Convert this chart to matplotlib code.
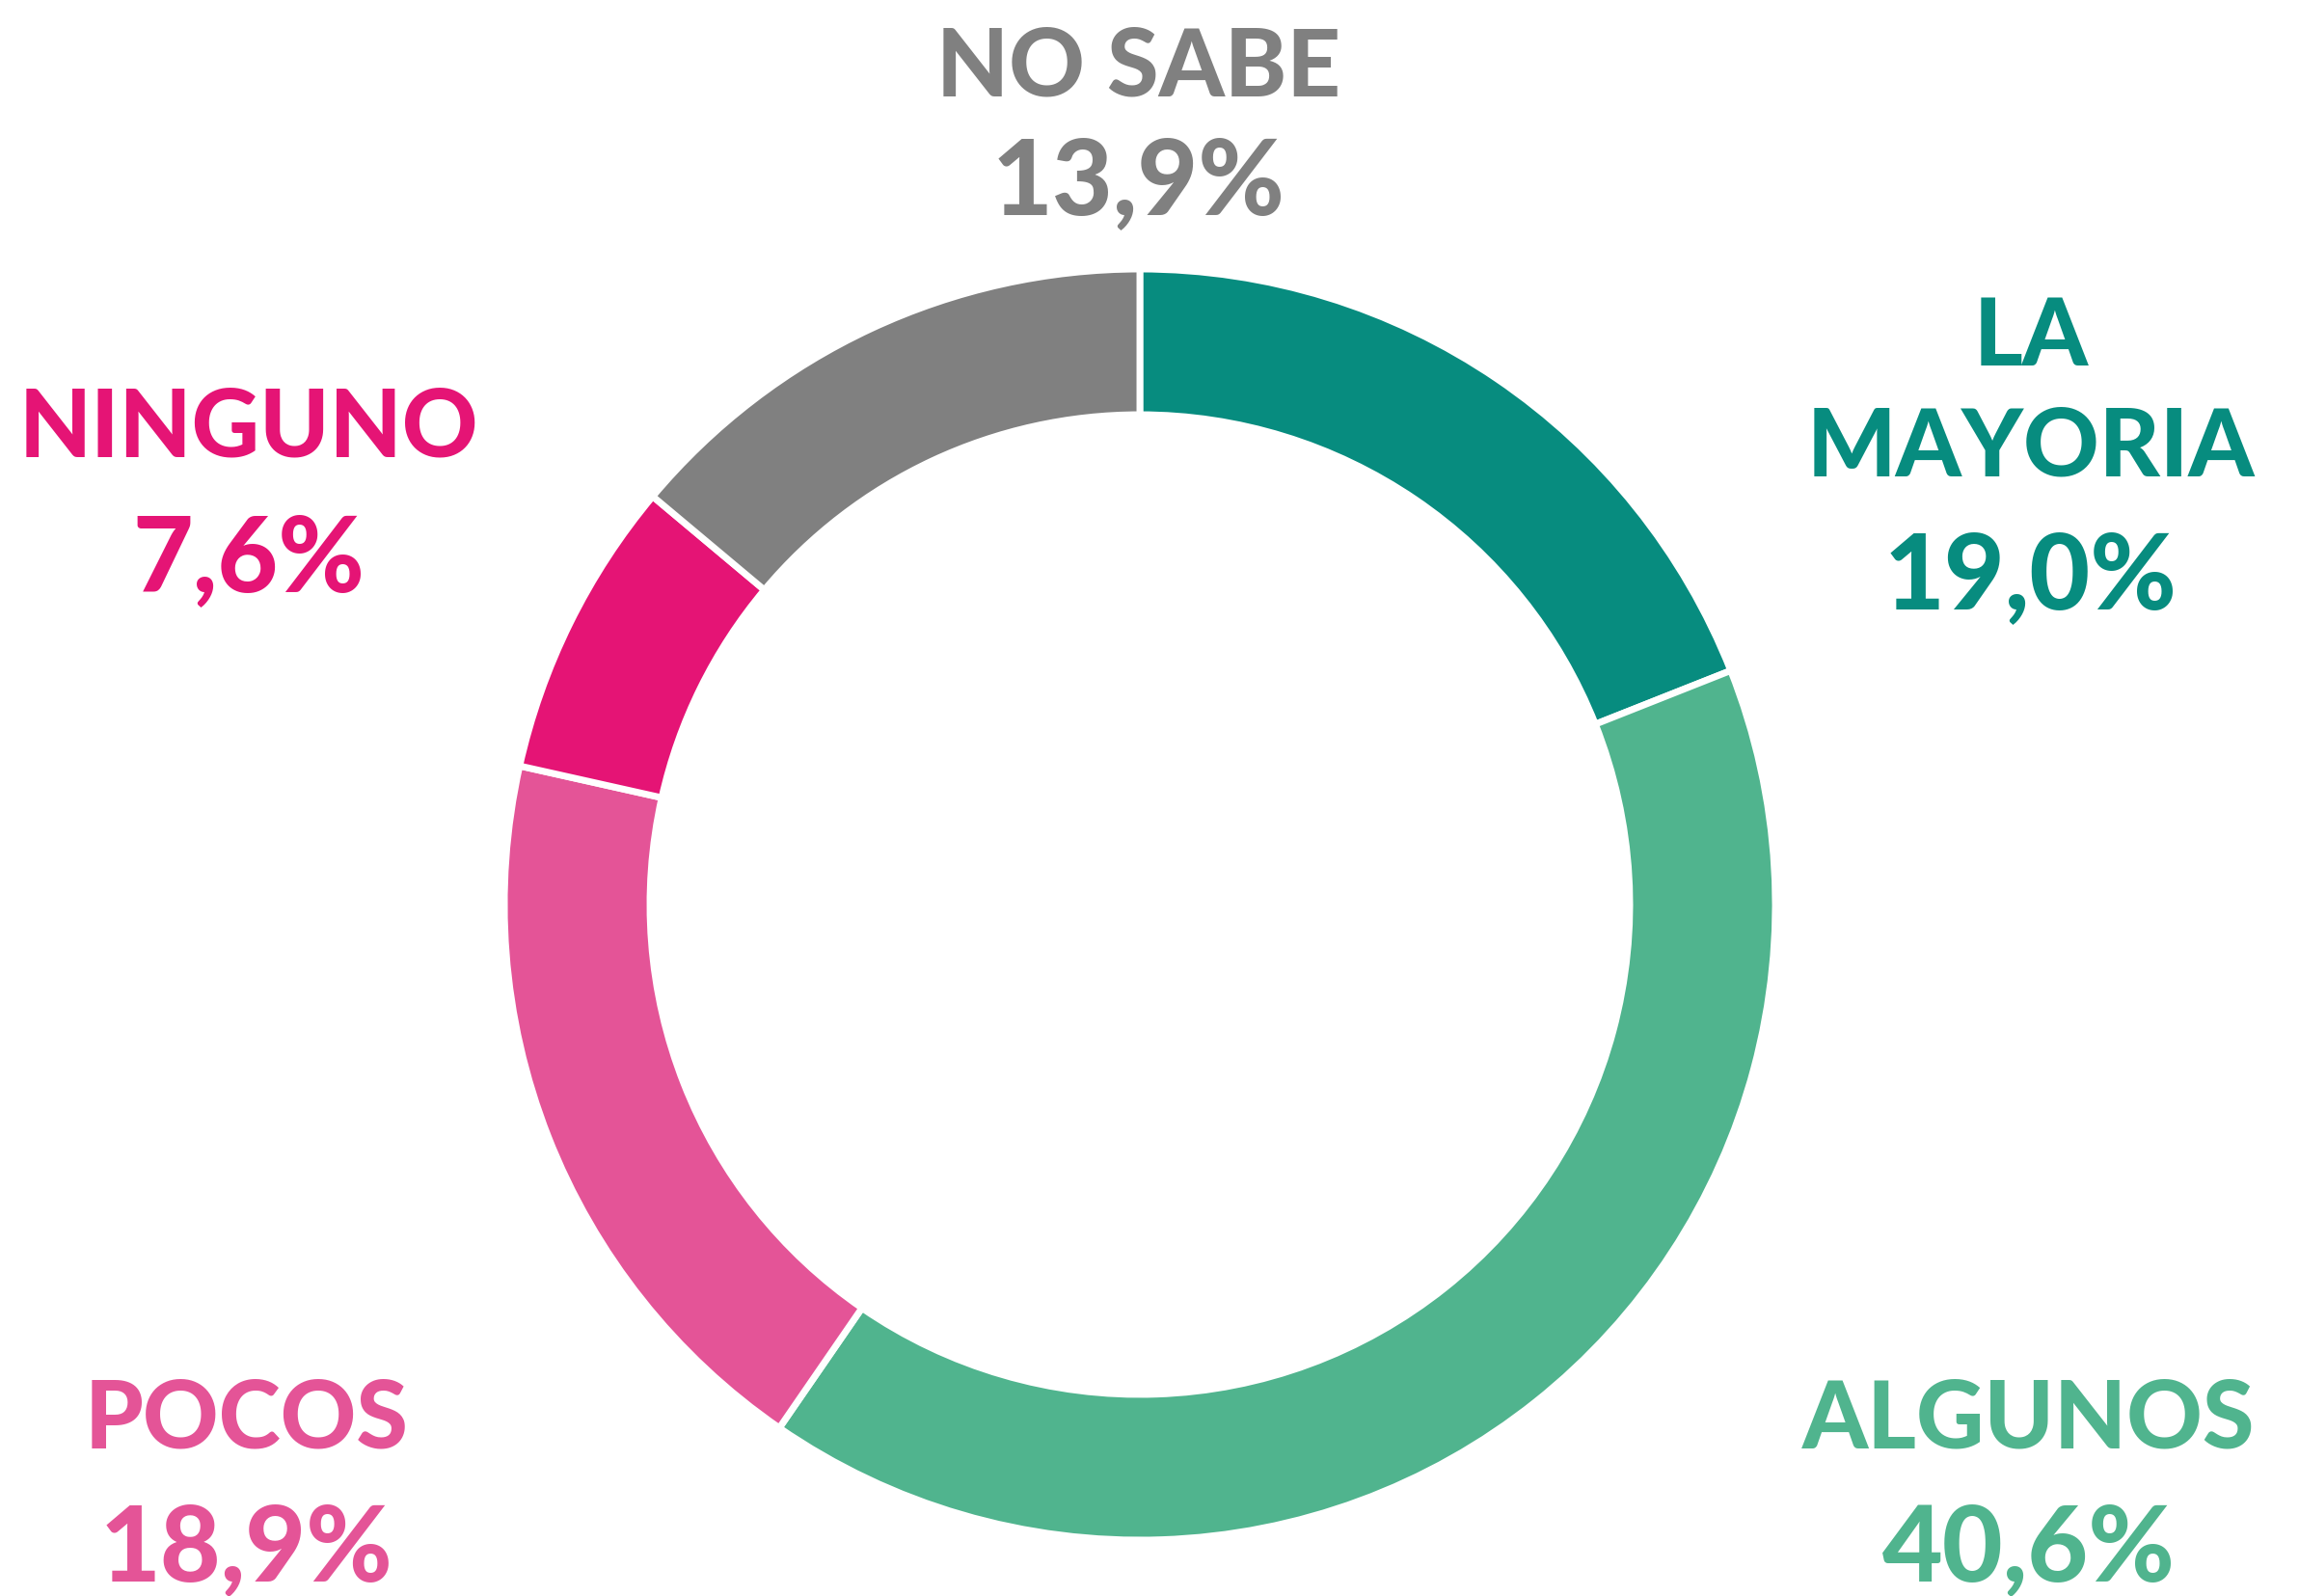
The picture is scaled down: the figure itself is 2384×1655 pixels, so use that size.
import matplotlib
matplotlib.use("Agg")
import matplotlib.pyplot as plt
from matplotlib import font_manager

# data
categorias = ["LA\nMAYORIA", "ALGUNOS", "POCOS", "NINGUNO", "NO SABE"]
valores = [19.0, 40.6, 18.9, 7.6, 13.9]
colores = ["#078C7F", "#50B48E", "#E45497", "#E51475", "#808080"]

W, H = 2384, 1655
fam = "Lato" if any("Lato" in f.name for f in font_manager.fontManager.ttflist) else "DejaVu Sans"

fig = plt.figure(figsize=(W / 100, H / 100), dpi=100)
ax = fig.add_axes([0, 0, 1, 1])
ax.set_xlim(0, W)
ax.set_ylim(0, H)
ax.set_aspect("equal")
ax.axis("off")

cx, cy = 1182, H - 938
r_out, r_in = 659, 508
ax.pie(valores, colors=colores, startangle=90, counterclock=False,
       center=(cx, cy), radius=r_out,
       wedgeprops=dict(width=r_out - r_in, edgecolor="white", linewidth=5))
ax.set_xlim(0, W)
ax.set_ylim(0, H)

def fmt(v):
    return f"{v:.1f}".replace(".", ",") + "%"

# label placement (x center, baseline of name, baseline of value) in pixels from top
pos = {
    "LA\nMAYORIA": (2106, 494, 631),
    "ALGUNOS": (2104, 1502, 1639),
    "POCOS": (256, 1502, 1639),
    "NINGUNO": (258, 474, 613),
    "NO SABE": (1181, 100, 222),
}

for cat, v, c in zip(categorias, valores, colores):
    x, yb, yv = pos[cat]
    lines = cat.split("\n")
    for k, ln in enumerate(reversed(lines)):
        ax.text(x, H - (yb - k * 115), ln, ha="center", va="baseline",
                fontsize=70, fontweight="black", color=c, family=fam)
    ax.text(x, H - yv, fmt(v), ha="center", va="baseline",
            fontsize=78, fontweight="black", color=c, family=fam)

fig.savefig("out.png", dpi=100, facecolor="white")
